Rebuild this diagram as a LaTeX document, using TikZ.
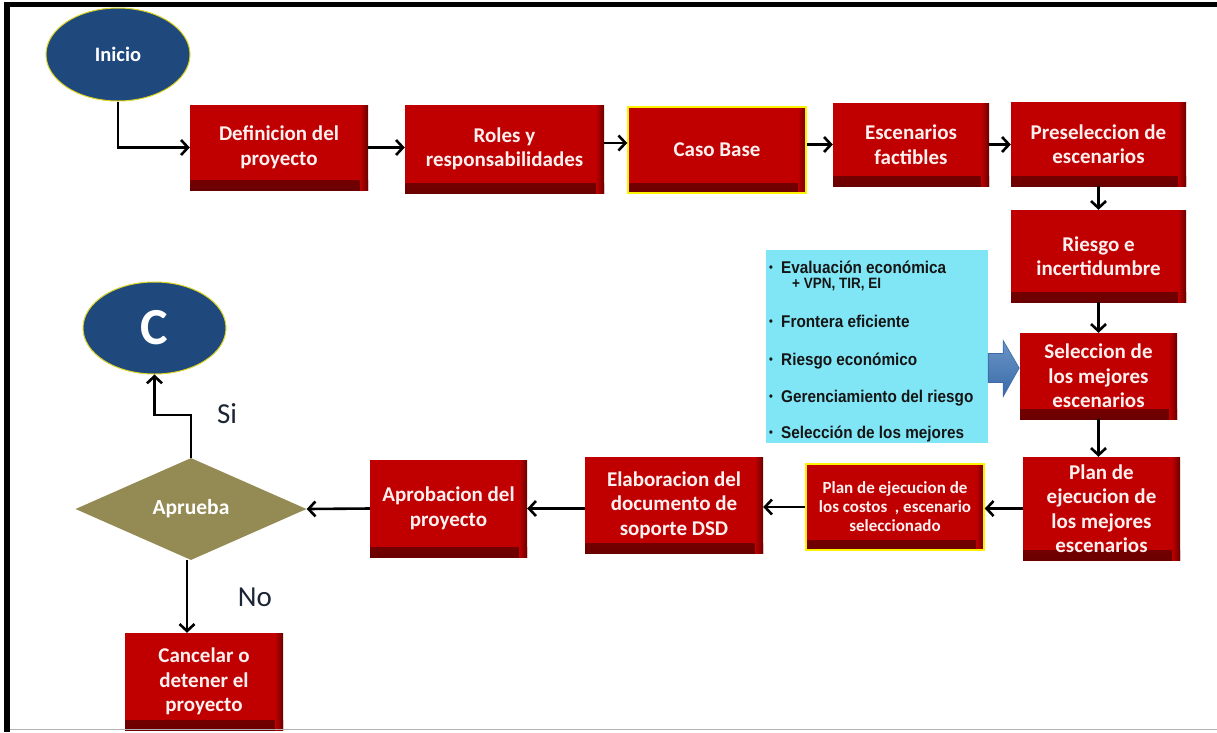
\documentclass[tikz,border=0pt]{standalone}
\usepackage{fontspec}
\setmainfont{Carlito}
\newfontfamily\notefont[FakeStretch=0.9]{Liberation Sans}
\usetikzlibrary{arrows.meta,shapes.geometric,calc}

\definecolor{boxred}{HTML}{C00000}
\definecolor{boxdark}{HTML}{6A0000}
\definecolor{boxtext}{HTML}{FFF0F0}
\definecolor{navy}{HTML}{1F497D}
\definecolor{olive}{HTML}{948A54}
\definecolor{notecyan}{HTML}{80E6F5}
\definecolor{arrowblue}{HTML}{4F81BD}
\definecolor{arrowbluedark}{HTML}{3A6BA8}
\definecolor{labelink}{HTML}{1C2536}
\definecolor{noteink}{HTML}{151515}

% small raised bullet for the note list
\newcommand{\itemdot}{\makebox[12pt][l]{\raisebox{2pt}{\fontsize{12}{12}\selectfont •}}}

\begin{document}
\begin{tikzpicture}[x=1pt,y=-1pt,
  stepbox/.style={rectangle, fill=boxred, text=boxtext, align=center, inner sep=0pt,
    font=\bfseries\fontsize{21}{24.5}\selectfont,
    path picture={
      % darker rim along the lower and right edges
      \shade[top color=boxred, bottom color=boxdark]
        ([yshift=10pt]path picture bounding box.south west) rectangle (path picture bounding box.south east);
      \shade[left color=boxred, right color=boxdark]
        ([xshift=-8pt]path picture bounding box.north east) rectangle (path picture bounding box.south east);
    }},
  keybox/.style={stepbox, draw=yellow, line width=1.5pt},
  terminal/.style={ellipse, fill=navy, draw=yellow!85!black, line width=1pt, inner sep=0pt,
    text=white, font=\bfseries\fontsize{20.5}{24}\selectfont},
  decision/.style={diamond, fill=olive, inner sep=0pt, text=white,
    font=\bfseries\fontsize{21.5}{24}\selectfont},
  arr/.style={-{Straight Barb[length=7pt,width=15pt]}, line width=2.6pt, black},
  branch/.style={text=labelink, font=\fontsize{29}{32}\selectfont},
  notetext/.style={anchor=base west, inner sep=0pt, text=noteink,
    font=\notefont\bfseries\fontsize{17}{19}\selectfont},
]
\useasboundingbox (0,0) rectangle (1217,732);
\fill[white] (0,0) rectangle (1217,732);

% start and end terminals
\node[terminal, minimum width=144, minimum height=93] (ini) at (118,54.5) {Inicio};
\node[terminal, minimum width=143, minimum height=92, font=\bfseries\fontsize{52}{56}\selectfont] (cc) at (154.5,328) {C};

% top row
\node[stepbox, minimum width=178, minimum height=85] (def) at (279,147.5) {Definicion del\\proyecto};
\node[stepbox, minimum width=199, minimum height=88] (roles) at (504.5,149) {Roles y\\responsabilidades};
\node[keybox, minimum width=178, minimum height=86] (caso) at (717,150) {Caso Base};
\node[stepbox, minimum width=156, minimum height=83] (esc) at (911,144.5) {Escenarios\\factibles};
\node[stepbox, minimum width=175, minimum height=84] (pre) at (1098.5,144) {Preseleccion de\\escenarios};

% right column
\node[stepbox, minimum width=175, minimum height=92] (riesgo) at (1098.5,256) {Riesgo e\\incertidumbre};
\node[stepbox, minimum width=157, minimum height=86] (sel) at (1098.5,376) {Seleccion de\\los mejores\\escenarios};
\node[stepbox, minimum width=157, minimum height=103] (plan) at (1101.5,508.5) {Plan de\\ejecucion de\\los mejores\\escenarios};

% bottom row
\node[keybox, minimum width=178, minimum height=86, font=\bfseries\fontsize{17}{19}\selectfont] (costos) at (895,507)
  {Plan de ejecucion de\\los costos\ \ , escenario\\seleccionado};
\node[stepbox, minimum width=178, minimum height=96] (elab) at (674,505) {Elaboracion del\\documento de\\soporte DSD};
\node[stepbox, minimum width=157, minimum height=97] (aprob) at (448.5,508.5) {Aprobacion del\\proyecto};
\node[decision, minimum width=231, minimum height=102] (dia) at (191,509) {Aprueba};
\node[stepbox, minimum width=158, minimum height=97] (cancel) at (204,681.5) {Cancelar o\\detener el\\proyecto};

% evaluation notes
\node[rectangle, fill=notecyan, inner sep=0pt, minimum width=222, minimum height=193] (info) at (877,346.5) {};
\node[notetext] (n1) at (769,273) {\itemdot Evaluación económica};
\node[notetext, font=\notefont\bfseries\fontsize{15}{17}\selectfont] (n2) at (792,288) {+ VPN, TIR, EI};
\node[notetext] (n3) at (769,327) {\itemdot Frontera eficiente};
\node[notetext] (n4) at (769,365) {\itemdot Riesgo económico};
\node[notetext] (n5) at (769,402) {\itemdot Gerenciamiento del riesgo};
\node[notetext] (n6) at (769,438) {\itemdot Selección de los mejores};

% block arrow from the notes to the selection step
\coordinate (ba) at (info.east |- 0,368);
\shade[top color=arrowblue!85!white, bottom color=arrowbluedark, draw=arrowbluedark, line width=0.6pt]
  (ba) ++(0,-14.5) -- ++(15,0) -- ++(0,-13) -- ++(16,27.5) -- ++(-16,28.5) -- ++(0,-14) -- ++(-15,0) -- cycle;

% connectors
\draw[arr] (ini.south) |- (def.west);
\draw[arr] (def.east) -- (def.east -| roles.west);
\draw[arr] ([yshift=6pt]roles.east) -- ([yshift=6pt]roles.east -| caso.west);
\draw[arr] (caso.east |- esc.west) -- (esc.west);
\draw[arr] (esc.east) -- (esc.east -| pre.west);
\draw[arr] (pre.south) -- (pre.south |- riesgo.north);
\draw[arr] (riesgo.south) -- (riesgo.south |- sel.north);
\draw[arr] (sel.south) -- (sel.south |- plan.north);
\draw[arr] (plan.west) -- (plan.west -| costos.east);
\draw[arr] (costos.west) -- (costos.west -| elab.east);
\draw[arr] (aprob.east -| elab.west) -- (aprob.east);
\draw[arr] (aprob.west) -- (dia.east);
\draw[arr] (dia.north) -- ++(0,-43) -| (cc.south);
\draw[arr] ([xshift=-4pt]dia.south) -- ([xshift=-4pt]dia.south |- cancel.north);

% branch labels
\node[branch] (si) at (227,414) {Si};
\node[branch] (no) at (255,597) {No};

% outer frame
\fill[black] (4,2) rectangle (1217,7);
\fill[black] (4,2) rectangle (10,732);
\draw[gray!60, line width=1pt] (10,729.5) -- (1217,729.5);
\end{tikzpicture}
\end{document}
